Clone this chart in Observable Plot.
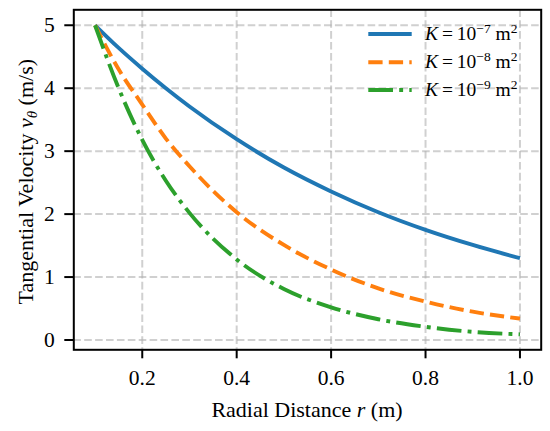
<!DOCTYPE html>
<html><head><meta charset="utf-8">
<script src="https://cdn.jsdelivr.net/npm/d3@7"></script>
<script src="https://cdn.jsdelivr.net/npm/@observablehq/plot@0.6"></script>
<style>
body{margin:0;background:#fff;}
</style>
</head><body><div id="chart"></div>
<script>
// ---- data ----
const radius     = [0.10, 0.15, 0.20, 0.25, 0.30, 0.40, 0.50, 0.60, 0.70, 0.80, 0.90, 1.00];
const velocityK7 = [5.00, 4.64, 4.31, 4.00, 3.71, 3.19, 2.74, 2.36, 2.03, 1.75, 1.51, 1.30];
const velocityK8 = [5.00, 4.30, 3.74, 3.20, 2.76, 2.03, 1.51, 1.12, 0.82, 0.61, 0.45, 0.34];
const velocityK9 = [5.00, 4.00, 3.18, 2.53, 2.02, 1.28, 0.81, 0.52, 0.33, 0.21, 0.13, 0.09];
const seriesExponents = ["−7", "−8", "−9"];
const xTicks = [0.2, 0.4, 0.6, 0.8, 1.0];
const yTicks = [0, 1, 2, 3, 4, 5];

// ---- styling ----
const colors = ["#1f77b4", "#ff7f0e", "#2ca02c"];
const dashes = [null, "14.3,6.2", "24.7,6.2,3.9,6.2"];
const W = 550, H = 431;
const mL = 73.3, mR = 9.3, mT = 9.3, mB = 81.7;
const FONT = "Liberation Serif, 'Times New Roman', serif";

const seriesVals = [velocityK7, velocityK8, velocityK9];
const tables = seriesVals.map((vals, k) => radius.map((r, i) => ({r, v: vals[i], s: k})));

const allV = seriesVals.flat();
const vmin = d3.min(allV), vmax = d3.max(allV);
const vpad = (vmax - vmin) * 0.05;
const rmin = d3.min(radius), rmax = d3.max(radius);
const rpad = (rmax - rmin) * 0.05;

const gridStyle = {stroke: "#b0b0b0", strokeOpacity: 0.6, strokeWidth: 2, strokeDasharray: "7.6,3.3"};

const chart = Plot.plot({
  width: W, height: H,
  marginLeft: mL, marginRight: mR, marginTop: mT, marginBottom: mB,
  style: {fontFamily: FONT, fontSize: "21.5px", background: "white", color: "black"},
  x: {domain: [rmin - rpad, rmax + rpad]},
  y: {domain: [vmin - vpad, vmax + vpad]},
  marks: [
    Plot.gridX(xTicks, gridStyle),
    Plot.gridY(yTicks, gridStyle),
    ...tables.map((t, k) => Plot.line(t, {
      x: "r", y: "v", stroke: colors[k], strokeWidth: 3.9,
      strokeDasharray: dashes[k] || undefined,
      strokeLinecap: "butt", strokeLinejoin: "round",
      curve: "monotone-x"
    })),
    Plot.frame({stroke: "black", strokeWidth: 2}),
    Plot.axisX(xTicks, {tickSize: 9, tickPadding: 11, strokeWidth: 2, fontSize: 21.5,
      tickFormat: d => d.toFixed(1), label: null}),
    Plot.axisY(yTicks, {tickSize: 9, tickPadding: 10, strokeWidth: 2, fontSize: 21.5,
      tickFormat: d => String(d), label: null})
  ]
});

const svg = d3.select(chart);
const cx = (mL + (W - mR)) / 2;
const cy = (mT + (H - mB)) / 2;

// x axis label
const xl = svg.append("text")
  .attr("x", cx).attr("y", 417.3)
  .attr("text-anchor", "middle")
  .attr("font-family", FONT).attr("font-size", 22).attr("fill", "black");
xl.append("tspan").text("Radial Distance ");
xl.append("tspan").attr("font-style", "italic").text("r");
xl.append("tspan").text(" (m)");

// y axis label
const yl = svg.append("text")
  .attr("transform", `translate(33,${cy + 2.4}) rotate(-90)`)
  .attr("text-anchor", "middle")
  .attr("font-family", FONT).attr("font-size", 22).attr("fill", "black");
yl.append("tspan").text("Tangential Velocity ");
yl.append("tspan").attr("font-style", "italic").text("v");
yl.append("tspan").attr("font-style", "italic").attr("font-size", 15).attr("dy", 4).text("θ");
yl.append("tspan").attr("dy", -4).text(" (m/s)");

// legend (inside plot, upper right)
const lg = svg.append("g").attr("text-anchor", "start");
const rowY = [34, 62.3, 90];
seriesExponents.forEach((ex, k) => {
  const y = rowY[k];
  lg.append("line")
    .attr("x1", 368.3).attr("x2", 411.7).attr("y1", y).attr("y2", y)
    .attr("stroke", colors[k]).attr("stroke-width", 3.9)
    .attr("stroke-dasharray", dashes[k]).attr("stroke-linecap", "butt");
  const t = lg.append("text")
    .attr("x", 425).attr("y", y + 6).attr("text-anchor", "start")
    .attr("font-family", FONT).attr("font-size", 19.5).attr("fill", "black");
  t.append("tspan").attr("font-style", "italic").text("K");
  t.append("tspan").text("\u2009=\u200910");
  t.append("tspan").attr("font-size", 13.5).attr("dy", -7.5).text(ex);
  t.append("tspan").attr("dy", 7.5).text(" m");
  t.append("tspan").attr("font-size", 13.5).attr("dy", -7.5).text("2");
});

document.getElementById("chart").appendChild(chart);
</script>
</body></html>
